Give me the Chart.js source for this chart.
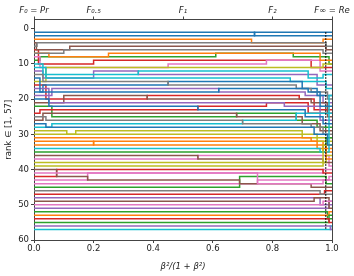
<!DOCTYPE html>
<html lang="en">
<head>
  <meta charset="UTF-8" />
  <title>Rank vs beta</title>
  <script src="https://cdn.jsdelivr.net/npm/chart.js"></script>
  <style>
    body { margin: 0; background: white; }
    #wrap { width: 354px; height: 276px; }
  </style>
</head>
<body>
  <div id="wrap"><canvas id="rankChart" width="354" height="276"></canvas></div>

  <script>
    // each path: starting rank at x=0, then pairs of (x where it changes, new rank)
    const rankPaths = [
      [2, 0.74, 1],
      [3, 0.73, 4, 0.97, 3],
      [9, 0.02, 8, 0.61, 7, 0.87, 8, 0.99, 10],
      [6, 0.015, 10, 0.2, 9, 0.93, 11],
      [12, 0.03, 14, 0.2, 12, 0.35, 13, 0.95, 16],
      [4, 0.008, 6, 0.12, 5, 0.98, 6],
      [8, 0.02, 11, 0.45, 10, 0.78, 9, 0.96, 12],
      [5, 0.01, 4, 0.98, 5],
      [15, 0.04, 11, 0.97, 10],
      [10, 0.03, 13, 0.35, 12, 0.92, 14, 0.97, 13],
      [1, 0.74, 2],
      [7, 0.05, 8, 0.25, 7, 0.96, 9],
      [22, 0.06, 25, 0.68, 24, 0.88, 26, 0.95, 28],
      [16, 0.04, 20, 0.38, 19, 0.89, 20, 0.94, 23],
      [19, 0.06, 17, 0.62, 18, 0.91, 19, 0.97, 21],
      [21, 0.1, 19, 0.38, 20, 0.93, 21, 0.985, 25],
      [37, 0.55, 36, 0.99, 39],
      [7, 0.1, 6, 0.97, 7],
      [30, 0.14, 29, 0.9, 31],
      [11, 0.04, 14, 0.86, 15, 0.98, 17],
      [18, 0.03, 16, 0.45, 15, 0.9, 17, 0.95, 19],
      [31, 0.93, 32, 0.97, 35],
      [35, 0.98, 31],
      [24, 0.02, 23, 0.55, 22, 0.78, 21, 0.92, 24],
      [17, 0.05, 21, 0.84, 22, 0.96, 26],
      [26, 0.03, 24, 0.68, 25, 0.9, 27, 0.96, 29],
      [43, 0.18, 41, 0.97, 40],
      [13, 0.03, 15, 0.45, 16, 0.88, 17, 0.93, 18, 0.985, 20],
      [29, 0.11, 30, 0.95, 32],
      [28, 0.06, 27, 0.7, 26, 0.88, 24, 0.99, 19],
      [14, 0.02, 18, 0.62, 17, 0.92, 18, 0.96, 22],
      [33, 0.2, 32, 0.95, 34],
      [45, 0.69, 42, 0.98, 44],
      [42, 0.076, 40, 0.97, 41],
      [48, 0.96, 50],
      [36, 0.55, 37, 0.97, 38],
      [44, 0.75, 43, 0.99, 42],
      [25, 0.04, 26, 0.7, 27, 0.93, 28, 0.97, 30],
      [38, 0.98, 36],
      [34, 0.96, 35, 0.99, 24],
      [20, 0.05, 22, 0.55, 23, 0.91, 25, 0.97, 27],
      [32, 0.2, 33, 0.98, 37],
      [52, 0.985, 54],
      [47, 0.975, 46],
      [51, 0.99, 49],
      [40, 0.076, 42, 0.18, 43, 0.69, 44, 0.93, 45],
      [41, 0.75, 44, 0.97, 43],
      [46, 0.96, 47],
      [39, 0.97, 33],
      [57, 0.995, 56],
      [27, 0.04, 28, 0.94, 30, 0.985, 33],
      [53, 0.99, 52],
      [55, 0.99, 53],
      [54, 0.99, 55],
      [56, 0.995, 57],
      [49, 0.94, 48, 0.99, 51],
      [50, 0.97, 49]
    ];

    const cutoffX = 0.979;
    const cutoffRanks = [1, 57];

    const topTickPos = [0, 0.2, 0.5, 0.8, 1];
    const topTickLabels = ['F₀ = Pr', 'F₀.₅', 'F₁', 'F₂', 'F∞ = Re'];

    const tab10 = ['#1f77b4', '#ff7f0e', '#2ca02c', '#d62728', '#9467bd',
                   '#8c564b', '#e377c2', '#7f7f7f', '#bcbd22', '#17becf'];

    function toPoints(path) {
      const pts = [{ x: 0, y: path[0] }];
      for (let i = 1; i < path.length; i += 2) {
        pts.push({ x: path[i], y: path[i + 1] });
      }
      pts.push({ x: 1, y: pts[pts.length - 1].y });
      return pts;
    }

    const datasets = rankPaths.map((p, i) => ({
      data: toPoints(p),
      borderColor: tab10[i % 10],
      borderWidth: 1.5,
      stepped: 'before',
      pointRadius: 0,
      fill: false,
      order: -i
    }));

    datasets.push({
      data: cutoffRanks.map(r => ({ x: cutoffX, y: r })),
      borderColor: '#000',
      borderWidth: 1.2,
      borderDash: [1.5, 1.5],
      pointRadius: 0,
      order: -100
    });

    const axisColor = '#444';
    const tickFont = { family: 'DejaVu Sans', size: 8.5 };

    Chart.defaults.font.family = 'DejaVu Sans';
    Chart.defaults.color = '#222';

    new Chart(document.getElementById('rankChart').getContext('2d'), {
      type: 'line',
      data: { datasets },
      options: {
        responsive: false,
        animation: false,
        layout: { padding: 0 },
        plugins: { legend: { display: false }, tooltip: { enabled: false } },
        scales: {
          x: {
            type: 'linear', min: 0, max: 1,
            ticks: { stepSize: 0.2, font: tickFont, padding: 1, maxRotation: 0,
                     callback: v => v.toFixed(1) },
            grid: { drawOnChartArea: false, tickLength: 3, color: axisColor },
            border: { color: axisColor, width: 1 },
            title: { display: true, text: 'β²/(1 + β²)', font: { size: 8.5, style: 'italic' }, padding: { top: 1 } },
            afterFit: s => { s.height = 36; }
          },
          x2: {
            type: 'linear', position: 'top', min: 0, max: 1,
            afterBuildTicks: s => { s.ticks = topTickPos.map(v => ({ value: v })); },
            ticks: { font: { size: 8.5, style: 'italic' }, padding: 1, maxRotation: 0, autoSkip: false,
                     callback: (v, i) => topTickLabels[i] },
            grid: { drawOnChartArea: false, tickLength: 3, color: axisColor },
            border: { color: axisColor, width: 1 },
            afterFit: s => { s.height = 19.5; }
          },
          y: {
            type: 'linear', reverse: true, min: -2.6, max: 60,
            afterBuildTicks: s => { s.ticks = [0, 10, 20, 30, 40, 50, 60].map(v => ({ value: v })); },
            ticks: { font: tickFont, padding: 2 },
            grid: { drawOnChartArea: false, tickLength: 3, color: axisColor },
            border: { color: axisColor, width: 1 },
            title: { display: true, text: 'rank ∈ [1, 57]', font: { size: 8.5 }, padding: { bottom: 1 } },
            afterFit: s => { s.width = 34; }
          },
          y2: {
            type: 'linear', position: 'right', min: -2.6, max: 60,
            ticks: { display: false },
            grid: { display: false },
            border: { color: axisColor, width: 1 },
            afterFit: s => { s.width = 22; }
          }
        }
      }
    });
  </script>
</body>
</html>
